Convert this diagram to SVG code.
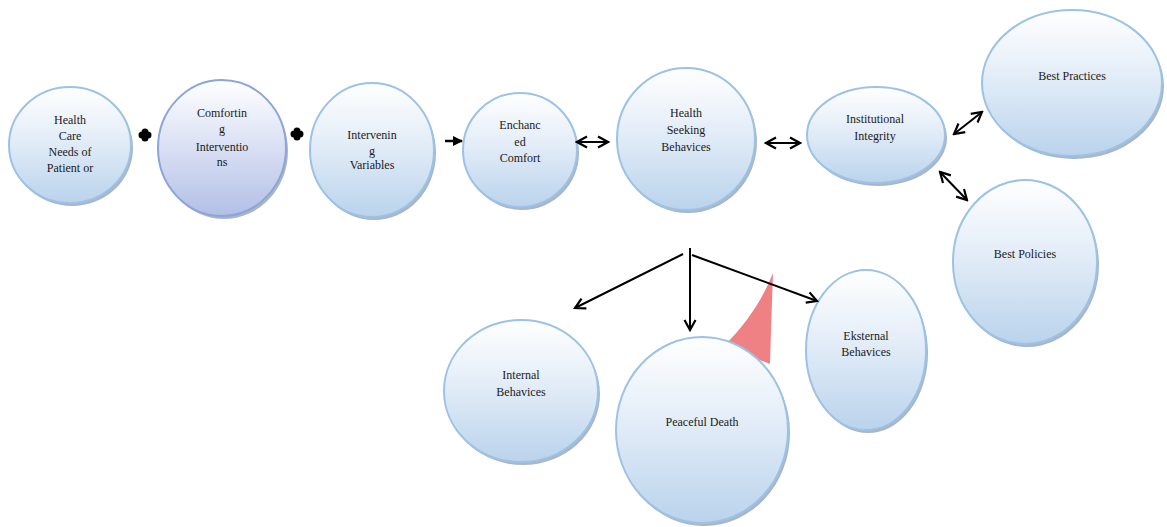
<svg xmlns="http://www.w3.org/2000/svg" width="1167" height="527" viewBox="0 0 1167 527">
<defs>
<linearGradient id="gb" x1="0" y1="0" x2="0" y2="1">
<stop offset="0" stop-color="#ffffff"/>
<stop offset="0.45" stop-color="#e3edf8"/>
<stop offset="1" stop-color="#bad3ec"/>
</linearGradient>
<linearGradient id="gp" x1="0" y1="0" x2="0" y2="1">
<stop offset="0" stop-color="#ffffff"/>
<stop offset="0.45" stop-color="#dde3f5"/>
<stop offset="1" stop-color="#b2bfe6"/>
</linearGradient>
<marker id="open" viewBox="0 0 14 14" refX="12" refY="7" markerWidth="14" markerHeight="14" markerUnits="userSpaceOnUse" orient="auto-start-reverse">
<path d="M2,1.5 L12,7 L2,12.5" fill="none" stroke="#000" stroke-width="2.2"/>
</marker>
<marker id="filled" viewBox="0 0 10 10" refX="9" refY="5" markerWidth="10" markerHeight="10" markerUnits="userSpaceOnUse" orient="auto">
<path d="M0,0 L10,5 L0,10 Z" fill="#000"/>
</marker>
</defs>
<style>
.sh{fill:#8497b0;opacity:0.7}
.nd{fill:url(#gb);stroke:#9cc2e5;stroke-width:2}
.np{fill:url(#gp);stroke:#8ea4d9;stroke-width:2}
text{font-family:"Liberation Serif","Times New Roman",serif;font-size:12px;fill:#1a1a1a;text-anchor:middle}
.c{fill:none;stroke:#000;stroke-width:2}
.plus{stroke:#000;stroke-width:7;stroke-linecap:round}
</style>
<rect width="1167" height="527" fill="#fff"/>
<path d="M773,273 C762,300 748,322 724,346 L770,364 L771,330 Z" fill="#ef8084"/>
<g id="n1"><ellipse class="sh" cx="72" cy="148" rx="61" ry="58"/><ellipse class="nd" cx="70" cy="145" rx="61" ry="58"/>
<text x="70" y="124">Health</text><text x="70" y="140">Care</text><text x="70" y="156">Needs of</text><text x="70" y="172">Patient or</text></g>
<g id="n2"><ellipse class="sh" cx="224" cy="151" rx="64" ry="68"/><ellipse class="np" cx="222" cy="148" rx="64" ry="68"/>
<text x="222" y="117">Comfortin</text><text x="222" y="133">g</text><text x="222" y="151">Interventio</text><text x="222" y="166">ns</text></g>
<g id="n3"><ellipse class="sh" cx="374" cy="153" rx="62" ry="67"/><ellipse class="nd" cx="372" cy="150" rx="62" ry="67"/>
<text x="372" y="139">Intervenin</text><text x="372" y="155">g</text><text x="372" y="169">Variables</text></g>
<g id="n4"><ellipse class="sh" cx="522" cy="153" rx="57" ry="57"/><ellipse class="nd" cx="520" cy="150" rx="57" ry="57"/>
<text x="520" y="129">Enchanc</text><text x="520" y="146">ed</text><text x="520" y="162">Comfort</text></g>
<g id="n5"><ellipse class="sh" cx="688" cy="142" rx="69" ry="71"/><ellipse class="nd" cx="686" cy="139" rx="69" ry="71"/>
<text x="686" y="117">Health</text><text x="686" y="134">Seeking</text><text x="686" y="151">Behavices</text></g>
<g id="n6"><ellipse class="sh" cx="878" cy="138" rx="69" ry="48"/><ellipse class="nd" cx="876" cy="135" rx="69" ry="48"/>
<text x="875" y="123">Institutional</text><text x="875" y="140">Integrity</text></g>
<g id="n7"><ellipse class="sh" cx="1074" cy="86" rx="90" ry="73"/><ellipse class="nd" cx="1072" cy="83" rx="90" ry="73"/>
<text x="1072" y="80">Best Practices</text></g>
<g id="n8"><ellipse class="sh" cx="1027" cy="265" rx="72" ry="82"/><ellipse class="nd" cx="1025" cy="262" rx="72" ry="82"/>
<text x="1025" y="258">Best Policies</text></g>
<g id="n9"><ellipse class="sh" cx="523" cy="394" rx="77" ry="71"/><ellipse class="nd" cx="521" cy="391" rx="77" ry="71"/>
<text x="521" y="379">Internal</text><text x="521" y="396">Behavices</text></g>
<g id="n10"><ellipse class="sh" cx="704" cy="433" rx="86" ry="93"/><ellipse class="nd" cx="702" cy="430" rx="86" ry="93"/>
<text x="702" y="426">Peaceful Death</text></g>
<g id="n11"><ellipse class="sh" cx="868" cy="353" rx="60" ry="80"/><ellipse class="nd" cx="866" cy="350" rx="60" ry="80"/>
<text x="866" y="340">Eksternal</text><text x="866" y="356">Behavices</text></g>
<g id="connectors">
<path class="plus" d="M145,132 v6 M142,135 h6"/>
<path class="plus" d="M297,131 v6 M294,134 h6"/>
<line x1="445" y1="141" x2="462" y2="141" stroke="#000" stroke-width="2.5" marker-end="url(#filled)"/>
<line class="c" x1="577" y1="142" x2="608" y2="142" marker-start="url(#open)" marker-end="url(#open)"/>
<line class="c" x1="766" y1="143" x2="800" y2="143" marker-start="url(#open)" marker-end="url(#open)"/>
<line class="c" x1="954" y1="134" x2="982" y2="112" marker-start="url(#open)" marker-end="url(#open)"/>
<line class="c" x1="940" y1="172" x2="967" y2="200" marker-start="url(#open)" marker-end="url(#open)"/>
<line class="c" x1="690" y1="248" x2="690" y2="330" marker-end="url(#open)"/>
<line class="c" x1="683" y1="254" x2="575" y2="308" marker-end="url(#open)"/>
<line class="c" x1="692" y1="255" x2="817" y2="301" marker-end="url(#open)"/>
</g>
</svg>
